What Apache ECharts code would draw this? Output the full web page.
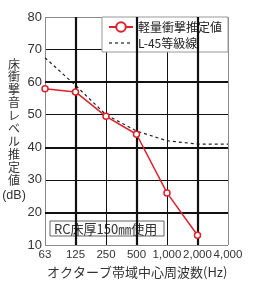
<!DOCTYPE html>
<html><head><meta charset="utf-8">
<script src="https://cdn.jsdelivr.net/npm/echarts@6/dist/echarts.min.js"></script>
<style>html,body{margin:0;padding:0;background:#fff}#c{width:258px;height:295px}</style>
</head><body><div id="c"></div>
<script>
const categories = ['63','125','250','500','1,000','2,000','4,000'];
const estimateName = '軽量衝撃推定値';
const estimateValues = [58, 57, 49.5, 44, 26, 13, null];
const gradeName = 'L-45等級線';
const gradeValues = [67.5, 59, 50, 45, 42, 41, 41];
const thickY = [20, 40, 60];
const thickX = ['125', '500', '2,000'];
const yName = ['床','衝','撃','音','レ','ベ','ル','推','定','値'];
const yUnit = '(dB)';
const xName = 'オクターブ帯域中心周波数(Hz)';
const note = 'RC床厚150㎜使用';

const sans = "'Liberation Sans',Arial,sans-serif";
const cjk = "'Noto Sans CJK JP','Liberation Sans',sans-serif";
const chart = echarts.init(document.getElementById('c'), null, {renderer:'canvas'});
const grayBorder = '#8a8a8a', dark = '#111';
const yNameGraphics = yName.map((ch, i) => ({
  type:'text', x:14, y:58 + i*12.9,
  style:{text:ch, font:"12px "+cjk, fill:'#333', align:'center', verticalAlign:'top'}
}));
chart.setOption({
  animation:false,
  grid:{left:45, right:30, top:17, bottom:50},
  xAxis:{type:'category', data:categories, boundaryGap:false,
    axisLine:{show:false}, axisTick:{show:false},
    axisLabel:{interval:0, margin:4, fontSize:11.5, fontFamily:sans, color:'#333'},
    splitLine:{show:true, interval:0, lineStyle:{width:1, color:[grayBorder,dark,dark,dark,dark,dark,grayBorder]}}},
  yAxis:{type:'value', min:10, max:80, interval:10,
    axisLine:{show:false}, axisTick:{show:false},
    axisLabel:{margin:3, fontSize:13, fontFamily:sans, color:'#333'},
    splitLine:{show:true, lineStyle:{width:1, color:[grayBorder,dark,dark,dark,dark,dark,dark,grayBorder]}}},
  legend:{right:30, top:17, orient:'vertical',
    data:[{name:estimateName},
          {name:gradeName, itemStyle:{opacity:0}, lineStyle:{type:[3,3], color:'#222', width:1.2}}],
    backgroundColor:'#fff', borderColor:'#999', borderWidth:1, borderRadius:0,
    padding:[4,6,3,6], itemGap:4, itemWidth:24, itemHeight:12,
    textStyle:{fontSize:12, fontFamily:cjk, color:'#222'}},
  series:[
    {name:'thick', type:'line', data:[], silent:true, z:1,
      markLine:{symbol:'none', silent:true, label:{show:false},
        lineStyle:{color:dark, width:2.2, type:'solid'},
        data:[...thickY.map(v=>({yAxis:v})), ...thickX.map(v=>({xAxis:v}))]}},
    {name:estimateName, type:'line', data:estimateValues, z:5,
      symbol:'circle', symbolSize:6, showSymbol:true,
      lineStyle:{color:'#e0202a', width:1.5},
      itemStyle:{color:'#fff', borderColor:'#e0202a', borderWidth:1.5}},
    {name:gradeName, type:'line', data:gradeValues, z:3,
      symbol:'none', lineStyle:{color:'#222', width:1.2, type:[3,3]},
      itemStyle:{color:'#222'}}
  ],
  graphic:[
    ...yNameGraphics,
    {type:'text', x:14, y:189, style:{text:yUnit, font:"12.5px "+sans, fill:'#333', align:'center'}},
    {type:'text', x:47, y:266, style:{text:xName, font:"13px "+cjk, fill:'#333'}},
    {type:'group', x:50, y:221, children:[
      {type:'rect', shape:{x:0,y:0,width:114,height:15}, style:{fill:'#fafafa', stroke:'#666', lineWidth:1}},
      {type:'text', x:4, y:1, style:{text:note, font:"13px "+cjk, fill:'#333', lineHeight:14}}
    ]}
  ]
});
</script></body></html>
